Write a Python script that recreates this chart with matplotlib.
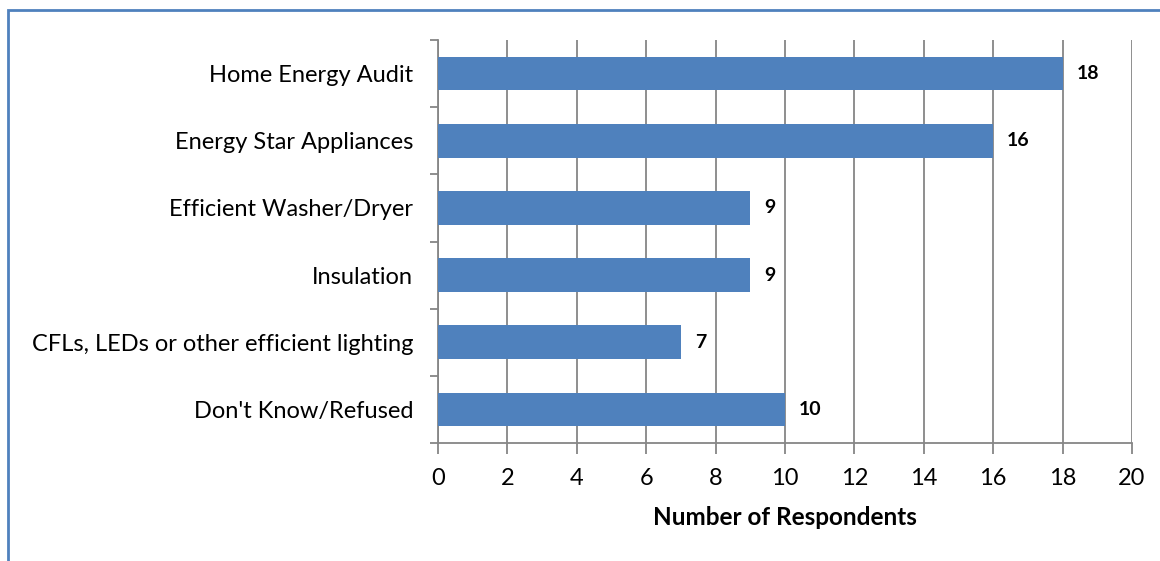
import matplotlib.pyplot as plt
from matplotlib.patches import Rectangle
import numpy as np

plt.rcParams['font.family'] = ['Lato', 'DejaVu Sans']

categories = ['Home Energy Audit', 'Energy Star Appliances', 'Efficient Washer/Dryer',
              'Insulation', 'CFLs, LEDs or other efficient lighting', "Don't Know/Refused"]
respondents = [18, 16, 9, 9, 7, 10]
x_ticks = [0, 2, 4, 6, 8, 10, 12, 14, 16, 18, 20]

W, H = 1160, 561
fig = plt.figure(figsize=(W / 100, H / 100), dpi=100)
ax = fig.add_axes([438 / W, 1 - 443 / H, (1132 - 438) / W, (443 - 40) / H])

# outer frame of the chart area
fig.patches.append(Rectangle((8 / W, -0.05), 1.1, 1 - 10 / H + 0.05,
                             transform=fig.transFigure, fill=False,
                             edgecolor='#4F81BD', linewidth=2))

blue = '#4F81BD'
grey = '#868686'
pos = np.arange(len(categories))
ax.barh(pos, respondents, height=0.5, color=blue, zorder=3)
for p, v in zip(pos, respondents):
    ax.text(v + 0.4, p, str(v), va='center', ha='left', fontsize=14,
            fontweight='bold', color='black')

ax.set_ylim(len(categories) - 0.5, -0.5)
ax.set_xlim(0, 20)
ax.set_xticks(x_ticks)
ax.set_yticks(pos)
ax.set_yticklabels(categories, fontsize=17)
ax.set_yticks(np.arange(-0.5, len(categories), 1), minor=True)
ax.tick_params(axis='y', which='major', length=0, pad=18)
ax.tick_params(axis='y', which='minor', length=6, color=grey, width=1.3)
ax.tick_params(axis='x', which='major', length=8, color=grey, width=1.3,
               labelsize=17, pad=10)

ax.xaxis.grid(True, color=grey, linewidth=1.3, zorder=0)
ax.set_axisbelow(True)
for s in ['top', 'right']:
    ax.spines[s].set_visible(False)
for s in ['left', 'bottom']:
    ax.spines[s].set_color(grey)
    ax.spines[s].set_linewidth(1.3)

ax.set_xlabel('Number of Respondents', fontsize=17.5, fontweight='bold', labelpad=12)

fig.savefig('out.png', dpi=100)
